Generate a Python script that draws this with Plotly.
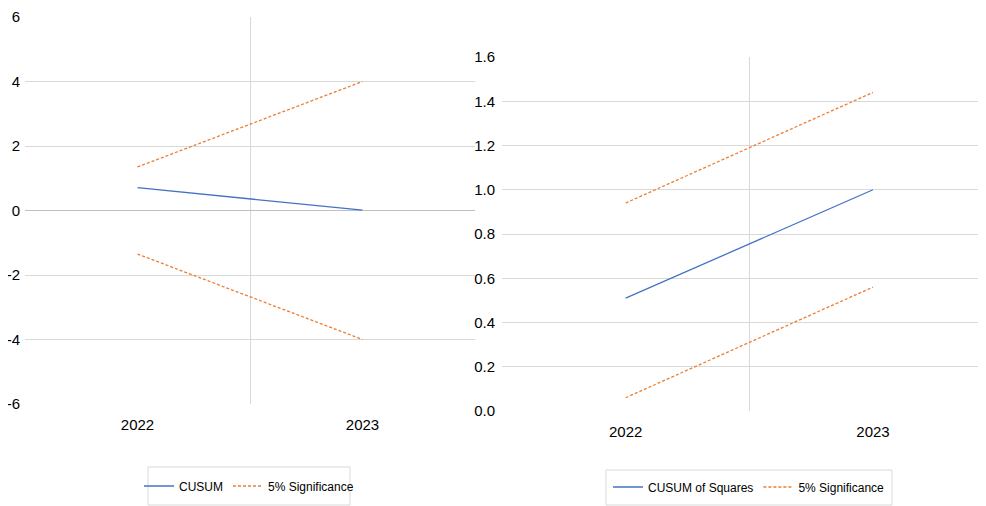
import plotly.graph_objects as go

# ---- data ----
years = ["2022", "2023"]
cusum = [0.71, 0.01]
cusum_upper = [1.35, 4.0]
cusum_lower = [-1.35, -4.0]
cusumsq = [0.51, 1.0]
cusumsq_upper = [0.94, 1.44]
cusumsq_lower = [0.06, 0.56]
left_yticks = [-6, -4, -2, 0, 2, 4, 6]
right_yticks = [0.0, 0.2, 0.4, 0.6, 0.8, 1.0, 1.2, 1.4, 1.6]

xi = list(range(len(years)))

FONT = "Liberation Sans, Arial, sans-serif"
BLUE = "#4472C4"
ORANGE = "#ED7D31"
GRID = "#d9d9d9"
# page body has an 8px margin: figure is placed at (8, 8) inside the 986x506 window
OFF = 8
W, H = 986 - OFF, 506 - OFF


def px(x):
    return (x - OFF) / W


def py(y):
    return 1 - (y - OFF) / H


fig = go.Figure()

# left chart
fig.add_trace(go.Scatter(x=xi, y=cusum, mode="lines", name="CUSUM",
                         line=dict(color=BLUE, width=1.3), xaxis="x", yaxis="y",
                         legend="legend"))
fig.add_trace(go.Scatter(x=xi, y=cusum_upper, mode="lines", name="5% Significance",
                         line=dict(color=ORANGE, width=1.3, dash="3px,2px"),
                         xaxis="x", yaxis="y", legend="legend"))
fig.add_trace(go.Scatter(x=xi, y=cusum_lower, mode="lines", name="5% Significance",
                         line=dict(color=ORANGE, width=1.3, dash="3px,2px"),
                         xaxis="x", yaxis="y", legend="legend", showlegend=False))

# right chart
fig.add_trace(go.Scatter(x=xi, y=cusumsq, mode="lines", name="CUSUM of Squares",
                         line=dict(color=BLUE, width=1.3), xaxis="x2", yaxis="y2",
                         legend="legend2"))
fig.add_trace(go.Scatter(x=xi, y=cusumsq_upper, mode="lines", name="5% Significance",
                         line=dict(color=ORANGE, width=1.3, dash="3px,2px"),
                         xaxis="x2", yaxis="y2", legend="legend2"))
fig.add_trace(go.Scatter(x=xi, y=cusumsq_lower, mode="lines", name="5% Significance",
                         line=dict(color=ORANGE, width=1.3, dash="3px,2px"),
                         xaxis="x2", yaxis="y2", legend="legend2", showlegend=False))

xcommon = dict(tickmode="array", tickvals=xi, ticktext=years, showgrid=False,
               zeroline=False, showline=False, ticks="", ticklabelstandoff=10,
               automargin=False,
               tickfont=dict(family=FONT, size=15, color="#000"),
               minor=dict(tickmode="array", tickvals=[0.5], showgrid=True,
                          gridcolor=GRID, gridwidth=1, ticks=""))

legend_common = dict(orientation="h", xanchor="center", yanchor="middle",
                     borderwidth=0, bgcolor="rgba(0,0,0,0)",
                     font=dict(family=FONT, size=12, color="#000"), itemwidth=30)

fig.update_layout(
    width=W, height=H,
    margin=dict(l=0, r=0, t=0, b=0),
    paper_bgcolor="white", plot_bgcolor="white",
    font=dict(family=FONT, color="#000"),
    xaxis=dict(domain=[px(25), px(475)], range=[-0.5, 1.5], anchor="y", **xcommon),
    yaxis=dict(domain=[py(404), py(17)], range=[-6, 6], anchor="x",
               tickmode="array", tickvals=left_yticks,
               ticktext=[str(v) for v in left_yticks], automargin=False,
               showgrid=False, zeroline=True, zerolinecolor="#bfbfbf", zerolinewidth=1.3,
               showline=False, ticks="", ticklabelstandoff=4,
               tickfont=dict(family=FONT, size=15, color="#000"),
               minor=dict(tickmode="array", tickvals=[-4, -2, 2, 4], showgrid=True,
                          gridcolor=GRID, gridwidth=1, ticks="")),
    xaxis2=dict(domain=[px(502), 1.0], range=[-0.5, 1.457], anchor="y2", **xcommon),
    yaxis2=dict(domain=[py(411), py(57)], range=[0, 1.6], anchor="x2",
                tickmode="array", tickvals=right_yticks,
                ticktext=[f"{v:.1f}" for v in right_yticks], automargin=False,
                showgrid=False, zeroline=False, showline=False, ticks="",
                ticklabelstandoff=6,
                tickfont=dict(family=FONT, size=15, color="#000"),
                minor=dict(tickmode="array", tickvals=right_yticks[1:-1], showgrid=True,
                           gridcolor=GRID, gridwidth=1, ticks="")),
    legend=dict(x=px(249), y=py(486), **legend_common),
    legend2=dict(x=px(749), y=py(487), **legend_common),
    shapes=[
        dict(type="rect", xref="paper", yref="paper", x0=px(148), x1=px(350),
             y0=py(505), y1=py(467), line=dict(color=GRID, width=1), layer="below"),
        dict(type="rect", xref="paper", yref="paper", x0=px(606), x1=px(892),
             y0=py(505), y1=py(470), line=dict(color=GRID, width=1), layer="below"),
    ],
)

fig.write_html("out.html")
